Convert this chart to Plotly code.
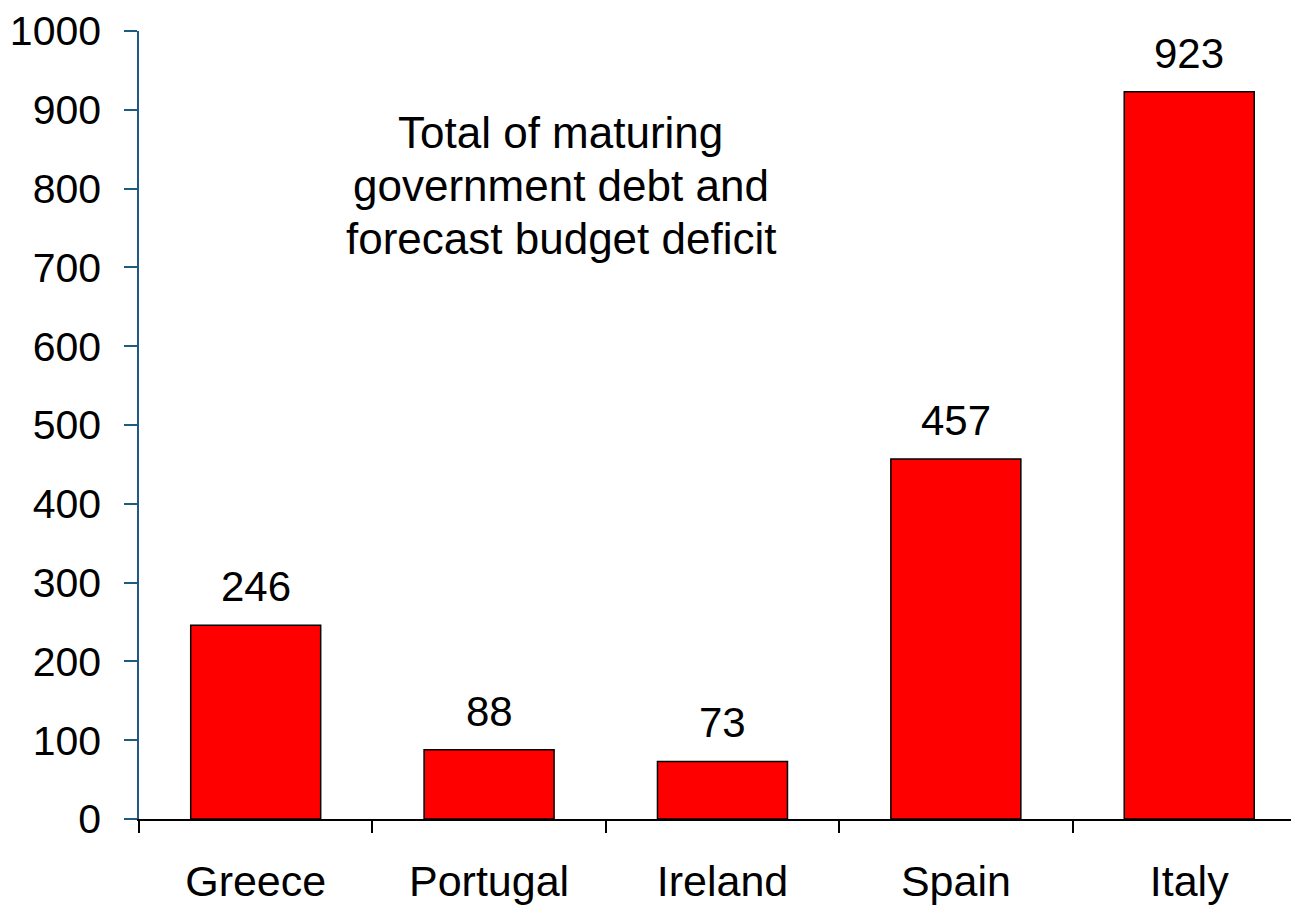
import plotly.graph_objects as go

countries = ["Greece", "Portugal", "Ireland", "Spain", "Italy"]
values = [246, 88, 73, 457, 923]
y_ticks = [0, 100, 200, 300, 400, 500, 600, 700, 800, 900, 1000]
note_lines = ["Total of maturing", "government debt and", "forecast budget deficit"]
note_line_y = [0.8715, 0.8044, 0.7361]

FONT = "Liberation Sans, Arial, sans-serif"

fig = go.Figure()
fig.add_trace(go.Bar(
    x=countries, y=values,
    marker=dict(color="#FF0000", line=dict(color="#000000", width=1.5)),
    width=0.557,
    showlegend=False,
))

for c, v in zip(countries, values):
    fig.add_annotation(x=c, y=v, text=str(v), showarrow=False,
                       xanchor="center", yanchor="bottom", yshift=13,
                       font=dict(family=FONT, size=42, color="#000000"))

for line, ly in zip(note_lines, note_line_y):
    fig.add_annotation(xref="paper", yref="paper", x=0.366, y=ly,
                       text=line, showarrow=False,
                       xanchor="center", yanchor="middle", align="center",
                       font=dict(family=FONT, size=44, color="#000000"))

fig.update_layout(
    width=1291, height=905,
    margin=dict(l=139, r=0, t=31, b=84),
    paper_bgcolor="white", plot_bgcolor="white",
    font=dict(family=FONT, size=41, color="#000000"),
    xaxis=dict(
        range=[-0.5, 4.436], showgrid=False, zeroline=False,
        showline=True, linecolor="#000000", linewidth=1.5,
        ticks="outside", tickson="boundaries", ticklen=12,
        tickcolor="#000000", tickwidth=1.5,
        ticklabelstandoff=24,
        tickfont=dict(family=FONT, size=43, color="#000000"),
    ),
    yaxis=dict(
        range=[0, 1000], tickvals=y_ticks, showgrid=False, zeroline=False,
        showline=True, linecolor="#1F5A80", linewidth=1.5,
        ticks="outside", ticklen=13, tickcolor="#1F5A80", tickwidth=1.5,
        ticklabelstandoff=15,
        tickfont=dict(family=FONT, size=41, color="#000000"),
    ),
)

fig.write_html("out.html")
